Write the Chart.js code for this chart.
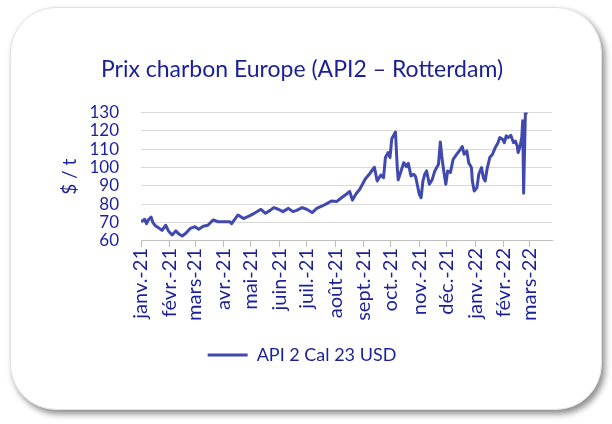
<!DOCTYPE html>
<html>
<head>
<meta charset="utf-8">
<script src="https://cdn.jsdelivr.net/npm/chart.js@4"></script>
<style>
  html, body { margin: 0; padding: 0; background: #ffffff; }
  body { width: 612px; height: 424px; position: relative; overflow: hidden; }
  #frame {
    position: absolute; left: 10px; top: 7px; width: 590px; height: 401px;
    border-radius: 46px; background: #ffffff;
    border: 1px solid #e2e2e2;
    box-shadow: 3px 4px 6px rgba(0,0,0,0.45);
  }
  #wrap { position: absolute; left: 0; top: 0; width: 612px; height: 424px; }
</style>
</head>
<body>
<div id="frame"></div>
<div id="wrap"><canvas id="c" width="612" height="424"></canvas></div>
<script>
// Days since 1 Jan 2021
const days = [0,4,6,8,11,13,16,20,23,27,30,34,38,41,45,49,54,59,63,68,73,79,84,97,99,106,112,119,123,131,136,141,145,150,155,161,166,170,176,181,187,192,198,203,208,214,219,225,228,231,235,239,245,250,255,258,262,265,267,270,272,274,278,280,281,284,287,290,292,293,295,298,300,301,304,306,308,310,312,315,318,321,325,327,329,331,333,335,338,341,345,349,351,353,356,358,361,362,364,367,369,372,374,376,378,381,384,387,390,392,395,397,399,401,404,407,409,411,412,414,416,417,418,420,421];
const prices = [70.5,71.8,69.5,71.5,73.1,70,68.2,66.9,65.8,68.6,65.5,63.3,65.5,64,62.7,64.2,66.9,67.8,66.4,68,68.6,71.5,70.5,70.5,69.5,74.2,72.2,73.8,74.9,77.3,75.1,76.7,78.2,77.3,76,77.8,76,76.7,78.2,77.3,75.5,77.8,79.1,80.4,81.8,81.6,83.6,85.8,87,82.3,85.8,88.2,93.8,96.8,100.2,92.7,96,94.5,105.5,108.2,105.5,115.8,119.4,99.5,93.3,98,102.7,100.5,102.4,100,95.5,96.4,95.1,92.7,85.5,83.6,92.7,96.4,98.2,90.9,93.3,98.2,101.8,114,104.5,97.3,90.9,98.2,97.3,104.5,107.3,110,111.5,107.3,109.1,102.7,100,92.7,87.3,89.1,96.4,100,94.5,92.7,99.1,105.5,107.3,110.9,113.6,116.4,115.5,113.6,117.3,116.4,117.6,113.6,114.5,111.8,108.2,111.5,116.4,125.5,86,132,129];
const monthTicks = [0,31,59,90,120,151,181,212,243,273,304,334,365,396,424];
const monthLabels = ['janv.-21','févr.-21','mars-21','avr.-21','mai-21','juin-21','juil.-21','août-21','sept.-21','oct.-21','nov.-21','déc.-21','janv.-22','févr.-22','mars-22'];
const seriesName = 'API 2 Cal 23 USD';
const chartTitle = 'Prix charbon Europe (API2 – Rotterdam)';
const yTitle = '$ / t';

const textColor = '#1a1f9a';
const lineColor = '#4049ad';
const FONT = 'Lato';

new Chart(document.getElementById('c'), {
  type: 'line',
  data: {
    datasets: [{
      label: seriesName,
      data: days.map((d, i) => ({ x: d, y: prices[i] })),
      borderColor: lineColor,
      backgroundColor: lineColor,
      borderWidth: 3,
      pointRadius: 0,
      tension: 0,
      borderJoinStyle: 'round'
    }]
  },
  options: {
    responsive: false,
    animation: false,
    devicePixelRatio: 1,
    layout: { padding: { left: 52, right: 60, top: 56, bottom: 50 } },
    plugins: {
      title: {
        display: true, text: chartTitle, color: textColor,
        font: { family: FONT, size: 23, weight: 'normal' },
        padding: { top: 0, bottom: 29 }
      },
      legend: {
        display: true, position: 'bottom',
        labels: {
          color: textColor, font: { family: FONT, size: 18 },
          usePointStyle: true, pointStyle: 'line', pointStyleWidth: 40,
          boxHeight: 3, padding: 6,
          generateLabels: (chart) => [{
            text: seriesName, fillStyle: lineColor, strokeStyle: lineColor,
            lineWidth: 3, pointStyle: 'line', fontColor: textColor, datasetIndex: 0
          }]
        }
      },
      tooltip: { enabled: false }
    },
    scales: {
      x: {
        type: 'linear', min: 0, max: 449,
        afterBuildTicks: (s) => { s.ticks = monthTicks.map(v => ({ value: v })); },
        afterFit: (s) => { s.height = 99; },
        ticks: {
          autoSkip: false, minRotation: 90, maxRotation: 90,
          color: textColor, font: { family: FONT, size: 20 }, padding: 1,
          callback: (v) => { const i = monthTicks.indexOf(v); return i >= 0 ? monthLabels[i] : ''; }
        },
        grid: { drawOnChartArea: false, drawTicks: true, tickLength: 6, color: '#bfbfbf', lineWidth: 1 },
        border: { display: true, color: '#bfbfbf', width: 1 }
      },
      y: {
        min: 60, max: 130,
        afterFit: (s) => { s.width = 89; },
        ticks: { stepSize: 10, autoSkip: false, color: textColor, font: { family: FONT, size: 17 }, padding: 22 },
        grid: { color: '#d9d9d9', lineWidth: 1, drawTicks: false },
        border: { display: false },
        title: { display: true, text: yTitle, color: textColor, font: { family: FONT, size: 19 }, padding: { top: 6, bottom: 0 } }
      }
    }
  }
});
</script>
</body>
</html>
